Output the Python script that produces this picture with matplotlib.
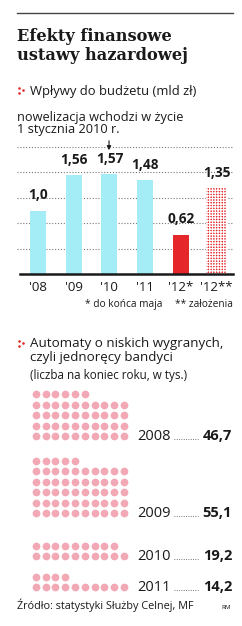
import matplotlib
matplotlib.use("Agg")
import matplotlib.pyplot as plt
import numpy as np

plt.rcParams['hatch.linewidth'] = 0.9

# ---- data ----
bar_labels = ["'08", "'09", "'10", "'11", "'12*", "'12**"]
bar_values = [1.0, 1.56, 1.57, 1.48, 0.62, 1.35]
bar_value_text = ["1,0", "1,56", "1,57", "1,48", "0,62", "1,35"]
bar_kind = ["actual", "actual", "actual", "actual", "partial", "plan"]

dot_years = ["2008", "2009", "2010", "2011"]
dot_values = [46.7, 55.1, 19.2, 14.2]

W, H = 242, 626
fig = plt.figure(figsize=(W / 100, H / 100), dpi=100)
fig.patch.set_facecolor("white")

SANS = ["Open Sans", "DejaVu Sans"]
SERIF = ["DejaVu Serif"]
CYAN = "#a4ecf6"
RED = "#e5262a"
PINK = "#f2a9b5"
DARK = "#1a1a1a"

# overlay axes in pixel coordinates for text & dot matrix
ov = fig.add_axes([0, 0, 1, 1])
ov.set_xlim(0, W)
ov.set_ylim(H, 0)
ov.axis("off")

def txt(x, y, s, size, weight="normal", family=SANS, ha="left", color=DARK):
    ov.text(x, y, s, fontsize=size, fontweight=weight, family=family,
            ha=ha, va="baseline", color=color)

def bullet(x, y):
    ov.scatter([x, x, x + 3.5], [y - 2.5, y + 2.5, y], s=3.5, color=RED, lw=0)

# top rule
ov.plot([17, 233], [13, 13], color="#444444", lw=1.0)

txt(17, 41, "Efekty finansowe", 11.7, "bold", SERIF)
txt(17, 60, "ustawy hazardowej", 11.7, "bold", SERIF)

bullet(19, 90)
txt(30, 95, "Wpływy do budżetu (mld zł)", 9.4)

txt(17, 121, "nowelizacja wchodzi w życie", 9.2)
txt(17, 133, "1 stycznia 2010 r.", 9.2)

# ---- bar chart ----
ax = fig.add_axes([17 / W, 1 - 274 / H, 216 / W, 127 / H])
ax.set_xlim(-0.588, 5.46)
ax.set_ylim(0, 2.0)
for g in [0.4, 0.8, 1.2, 1.6, 2.0]:
    ax.axhline(g, color="#777777", lw=0.8, ls=(0, (1, 1.6)), zorder=0)

x = np.arange(len(bar_values))
for i, (v, k) in enumerate(zip(bar_values, bar_kind)):
    if k == "actual":
        ax.bar(x[i], v, width=0.45, color=CYAN, zorder=2)
    elif k == "partial":
        ax.bar(x[i], v, width=0.45, color=RED, zorder=2)
    else:
        ax.bar(x[i], v, width=0.58, facecolor=RED, edgecolor="white",
               hatch="++++++", lw=0, zorder=2)
    ax.annotate(bar_value_text[i], (x[i], v), xytext=(0, 6),
                textcoords="offset points", ha="center", va="bottom",
                fontsize=9.8, fontweight="bold", family=SANS, color=DARK)

ax.plot([-0.5, 5.46], [0, 0], color=DARK, lw=1.8, zorder=3, clip_on=False)
ax.set_xticks(x)
ax.set_xticklabels(bar_labels, fontsize=9.5, family=SANS, color=DARK)
ax.tick_params(axis="x", length=0, pad=5)
ax.set_yticks([])
for sp in ax.spines.values():
    sp.set_visible(False)
ax.patch.set_alpha(0)

# arrow for law change
ov.annotate("", xy=(109, 153), xytext=(109, 138),
            arrowprops=dict(arrowstyle="-|>", color=DARK, lw=0.8,
                            mutation_scale=6))

txt(85, 307, "* do końca maja", 7.3)
txt(175, 307, "** założenia", 7.3)

# ---- dot matrix ----
bullet(19, 343)
txt(30, 347, "Automaty o niskich wygranych,", 9.6)
txt(30, 361, "czyli jednoręcy bandyci", 9.6)
txt(30, 379, "(liczba na koniec roku, w tys.)", 8.4)

group_base = [436, 513, 556, 587]
x0, dx, dy = 35.8, 9.8, 10.4
for yr, val, yb in zip(dot_years, dot_values, group_base):
    n = int(val)
    cols = np.arange(n) % 10
    rows = np.arange(n) // 10
    ov.scatter(x0 + cols * dx, yb - rows * dy, s=31, color=PINK, lw=0)
    txt(137, yb + 4, yr, 10.5)
    ov.plot([174, 198], [yb + 3, yb + 3], color="#555555", lw=0.7,
            ls=(0, (0.8, 1.6)))
    txt(232, yb + 4, f"{val:.1f}".replace(".", ","), 10.5, "bold", ha="right")

txt(17, 609, "Źródło: statystyki Służby Celnej, MF", 7.8)
txt(221, 609, "RM", 4.5)

fig.savefig("out.png", dpi=100, facecolor="white")
